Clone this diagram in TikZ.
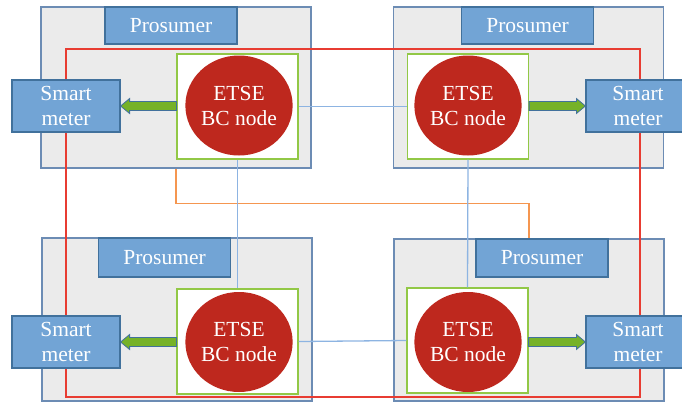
\documentclass[tikz,border=0pt]{standalone}
\usepackage{fontspec}
\setmainfont{Liberation Serif}
\usetikzlibrary{calc,shapes.geometric}
\definecolor{boxgray}{RGB}{235,235,235}
\definecolor{prosumerline}{RGB}{108,140,180}
\definecolor{tagblue}{RGB}{114,164,213}
\definecolor{tagline}{RGB}{65,113,156}
\definecolor{etsegreen}{RGB}{146,200,70}
\definecolor{bcred}{RGB}{190,40,30}
\definecolor{arrowgreen}{RGB}{118,178,40}
\definecolor{linkblue}{RGB}{141,180,226}
\definecolor{ringred}{RGB}{232,60,50}
\definecolor{busorange}{RGB}{245,150,80}
\tikzset{%
  prosumer/.style = {shape=rectangle, draw=prosumerline, fill=boxgray,%
                     line width=1.3pt, minimum width=270, minimum height=161},%
  tag/.style      = {shape=rectangle, draw=tagline, fill=tagblue, text=white,%
                     line width=1.2pt, inner sep=2pt, align=center,%
                     font=\fontsize{21.5}{25}\selectfont, text depth=1pt,%
                     minimum width=132, minimum height=37},%
  meter/.style    = {tag, text depth=, minimum width=108, minimum height=52},%
  etsebox/.style  = {shape=rectangle, draw=etsegreen, fill=white,%
                     line width=1.2pt, minimum width=121, minimum height=105},%
  bcnode/.style   = {ellipse, fill=bcred, text=white, align=center, inner sep=0pt,%
                     font=\fontsize{21.5}{25}\selectfont,%
                     minimum width=104, minimum height=100},%
  fatarrow/.style = {draw=tagline, fill=arrowgreen, line width=0.8pt},%
  link/.style     = {draw=linkblue, line width=1.3pt}%
}
\begin{document}
\begin{tikzpicture}[x=1pt,y=-1pt,
ring/.style={draw=ringred, line width=1.2pt},
bus/.style={draw=busorange, line width=1.4pt}]
	\useasboundingbox (0,0) rectangle (682,402);
	\node [prosumer] (p1) at (176,87.5) {};
	\node [prosumer] (p2) at (528.5,87.5) {};
	\node [prosumer, minimum height=163] (p3) at (177,319.5) {};
	\node [prosumer, minimum height=162] (p4) at (529,320) {};
	\draw [ring] (66,49) rectangle (640,397);
	\node [tag] (t1) at (171,25.5) {Prosumer};
	\node [tag] (t2) at (527.5,25.5) {Prosumer};
	\node [tag, minimum height=39] (t3) at (164.5,257.5) {Prosumer};
	\node [tag, minimum height=38] (t4) at (542,258) {Prosumer};
	\node [etsebox] (g1) at (237.5,106.5) {};
	\node [etsebox] (g2) at (468,106.5) {};
	\node [etsebox] (g3) at (237.5,341.5) {};
	\node [etsebox] (g4) at (467.5,340.5) {};
	\node [bcnode] (c1) at (239,105.5) {ETSE\\BC node};
	\node [bcnode] (c2) at (468,105.5) {ETSE\\BC node};
	\node [bcnode] (c3) at (239,342) {ETSE\\BC node};
	\node [bcnode] (c4) at (468,342) {ETSE\\BC node};
	\node [meter] (s1) at (66,106) {Smart\\meter};
	\node [meter, minimum width=104] (s2) at (638,106) {Smart\\meter};
	\node [meter] (s3) at (66,342) {Smart\\meter};
	\node [meter, minimum width=104] (s4) at (638,342) {Smart\\meter};
	\filldraw [fatarrow] (s1.east) -- ++(9,-7.5) -- ++(0,3) -- ($(s1.east -| g1.west)+(0,-4.5)$)
		-- ++(0,9) -- ($(s1.east)+(9,4.5)$) -- ++(0,3) -- cycle;
	\filldraw [fatarrow] (s2.west) -- ++(-9,-7.5) -- ++(0,3) -- ($(s2.west -| g2.east)+(0,-4.5)$)
		-- ++(0,9) -- ($(s2.west)+(-9,4.5)$) -- ++(0,3) -- cycle;
	\filldraw [fatarrow] (s3.east) -- ++(9,-7.5) -- ++(0,3) -- ($(s3.east -| g3.west)+(0,-4.5)$)
		-- ++(0,9) -- ($(s3.east)+(9,4.5)$) -- ++(0,3) -- cycle;
	\filldraw [fatarrow] (s4.west) -- ++(-9,-7.5) -- ++(0,3) -- ($(s4.west -| g4.east)+(0,-4.5)$)
		-- ++(0,9) -- ($(s4.west)+(-9,4.5)$) -- ++(0,3) -- cycle;
	\draw [bus] (p1.south) -- ++(0,35) -| (p4.north);
	\draw [link] (g1.east) -- (g2.west);
	\draw [link] (g3.east) -- (g4.west);
	\draw [link] (g1.south) -- (g3.north);
	\draw [link] (g2.south) -- (g4.north);
\end{tikzpicture}
\end{document}
